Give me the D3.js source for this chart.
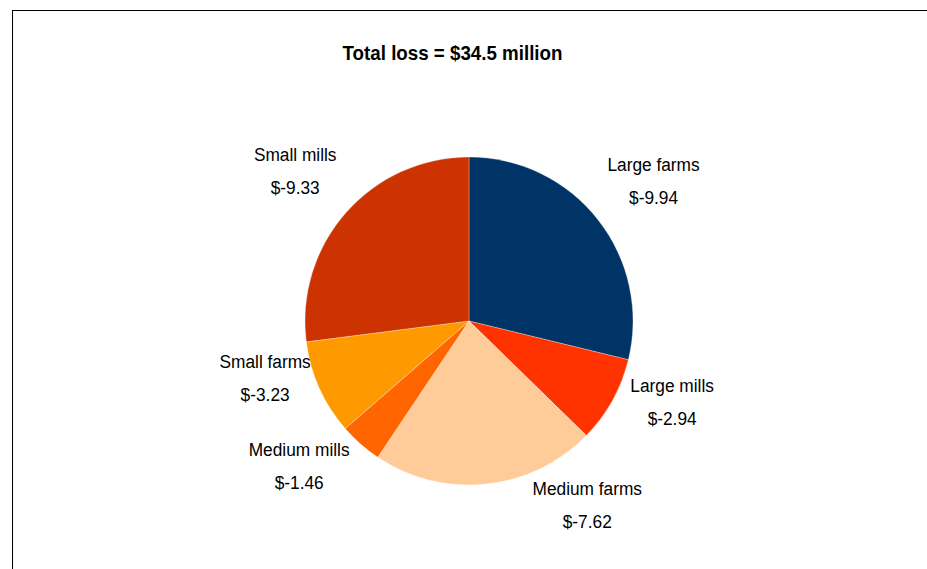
<html>
<head>
    <title>Total loss pie</title>
    <style>
        body { margin: 0; background: #fff; }
        svg { display: block; }
    </style>
</head>
<script src="https://d3js.org/d3.v7.min.js"></script>
<body>
    <svg id="main-svg" width="927" height="569"></svg>
    <script>
        // data
        const categories = ["Large farms", "Large mills", "Medium farms", "Medium mills", "Small farms", "Small mills"];
        const losses = [9.94, 2.94, 7.62, 1.46, 3.23, 9.33];
        const sliceColors = ["#003366", "#ff3300", "#ffcc99", "#ff6600", "#ff9900", "#cc3300"];
        const titleText = "Total loss = $34.5 million";

        // label placement tweaks: angle shift (degrees) and radius factor
        const labelNudge = [0.9, -7.3, -26.8, 8.1, 8.5, -0.6];
        const labelRadius = [1.414, 1.333, 1.333, 1.362, 1.291, 1.399];

        const width = 927, height = 569;
        const cx = 469, cy = 321, radius = 164;
        const font = "'Liberation Sans', Arial, sans-serif";

        const svg = d3.select("#main-svg");

        // frame lines (top and left)
        svg.append("line")
            .attr("x1", 12).attr("x2", width).attr("y1", 10.5).attr("y2", 10.5)
            .attr("stroke", "#000").attr("stroke-width", 1);
        svg.append("line")
            .attr("x1", 12.5).attr("x2", 12.5).attr("y1", 10).attr("y2", height)
            .attr("stroke", "#000").attr("stroke-width", 1);

        svg.append("text")
            .attr("transform", "translate(452.5,60) scale(0.915,1)")
            .attr("text-anchor", "middle")
            .style("font-family", font)
            .style("font-weight", "bold")
            .style("font-size", "20.5px")
            .text(titleText);

        const color = d3.scaleOrdinal().domain(categories).range(sliceColors);

        const pie = d3.pie().sort(null).value(d => d.value);
        const arcs = pie(categories.map((c, i) => ({ name: c, value: losses[i], i: i })));

        const arc = d3.arc().innerRadius(0).outerRadius(radius);

        const g = svg.append("g").attr("transform", `translate(${cx},${cy})`);

        g.selectAll("path")
            .data(arcs)
            .enter()
            .append("path")
            .attr("d", arc)
            .attr("fill", d => color(d.data.name))
            .attr("stroke", "#fff")
            .attr("stroke-width", 0.3);

        // labels: name and value, two centred lines
        arcs.forEach(d => {
            let a = (d.startAngle + d.endAngle) / 2 + labelNudge[d.data.i] * Math.PI / 180;
            let r = radius * labelRadius[d.data.i];
            let lx = Math.sin(a) * r;
            let ly = -Math.cos(a) * r;
            let t = g.append("text")
                .attr("transform", `translate(${lx},${ly}) scale(0.91,1)`)
                .attr("text-anchor", "middle")
                .style("font-family", font)
                .style("font-size", "19px")
                .attr("fill", "#000");
            t.append("tspan").attr("x", 0).attr("y", -10).text(d.data.name);
            t.append("tspan").attr("x", 0).attr("y", 23).text("$-" + d3.format(".2f")(d.data.value));
        });
    </script>
</body>
</html>
